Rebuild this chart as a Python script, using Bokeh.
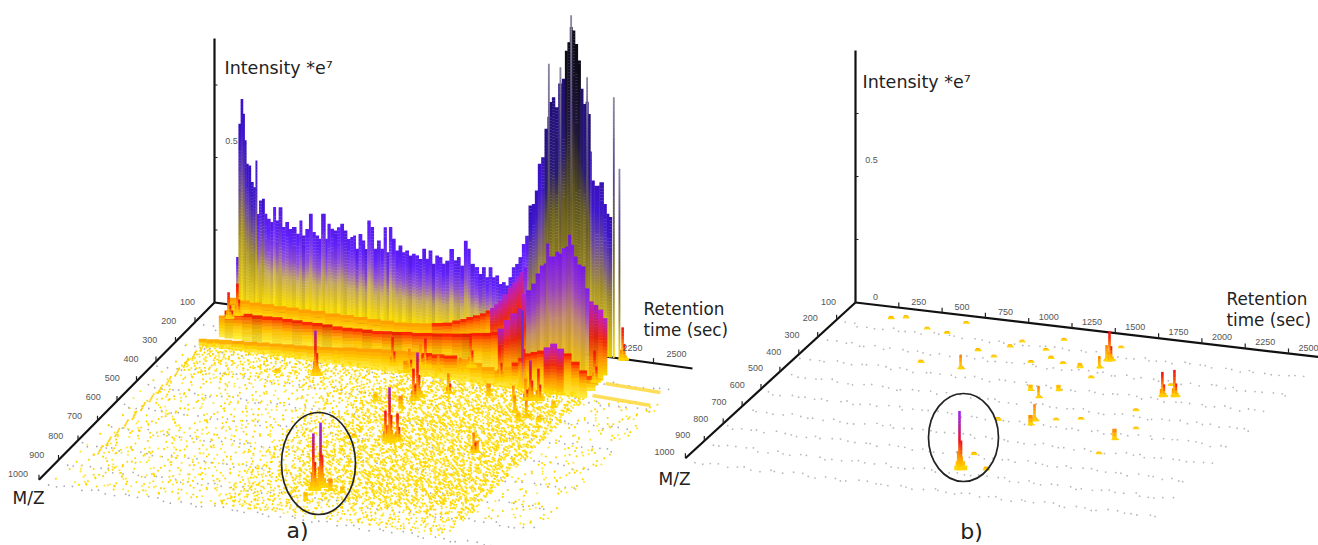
from bokeh.plotting import figure
from bokeh.embed import file_html
from bokeh.resources import INLINE
from bokeh.core.properties import value

# ---------- data ----------
rt_ticks = [250, 500, 750, 1000, 1250, 1500, 1750, 2000, 2250, 2500]
mz_ticks = [100, 200, 300, 400, 500, 600, 700, 800, 900, 1000]
intensity_ticks = [0.25, 0.5, 0.75]

ridge_a_rt = [133,142,158,167,177,186,201,214,230,239,247,262,281,290,309,328,342,357,376,395,414,433,452,480,490,509,528,550,566,585,604,613,626,638,651,670,689,708,727,746,765,784,797,812,831,850,864,879,898,917,936,955,974,987,1002,1021,1040,1059,1078,1097,1116,1135,1154,1173,1196,1211,1230,1249,1268,1287,1306,1325,1353,1372,1391,1410,1433,1448,1467,1496,1515,1534,1553,1572,1591,1610,1629,1648,1666,1685,1704,1723,1742,1761,1780,1799,1818,1833,1852,1871,1890,1904,1913,1932,1947,1970,1989,2004,2018,2031,2046,2061,2078,2093,2107,2122,2137,2145,2150,2179,2207,2226,2240,2255]
ridge_a_int = [.168,.628,.715,.665,.574,.494,.489,.433,.417,.510,.326,.374,.381,.330,.315,.305,.358,.313,.360,.293,.312,.290,.298,.277,.324,.274,.298,.352,.290,.280,.270,.357,.358,.273,.326,.310,.306,.319,.332,.311,.283,.291,.298,.253,.306,.285,.257,.356,.335,.262,.292,.265,.341,.256,.344,.305,.266,.285,.263,.271,.255,.263,.259,.248,.285,.252,.282,.238,.268,.264,.243,.255,.298,.260,.273,.245,.333,.306,.256,.247,.225,.250,.217,.253,.220,.228,.200,.208,.198,.228,.264,.277,.302,.349,.379,.485,.492,.539,.633,.657,.757,.80,.851,.869,.836,.92,.938,1.036,1.066,1.12,1.109,1.064,1.008,.912,.861,.87,.829,.70,.600,.585,.599,.526,.493,.483]
spike_a_rt = [1904, 1970, 2031, 2122, 2274, 2306]
spike_a_int = [.982, .976, 1.160, .954, .898, .654]

shelf_rt = [150,232,300,370,440,510,580,650,744,820,900,975,1050,1126,1200,1270,1340,1394,1450,1485,1520,1560,1599,1625,1650,1672,1695,1723,1752,1776,1800,1818,1837]
shelf_int = [.07,.067,.066,.066,.065,.066,.065,.066,.065,.066,.066,.065,.066,.066,.070,.075,.082,.088,.100,.108,.118,.127,.137,.149,.160,.174,.189,.213,.239,.258,.280,.298,.315]

hump_rt = [201,249,296,353,410,467,524,581,638,695,752,809,866,923,980,1036,1093,1150,1207,1264,1321,1378,1435,1492,1549,1606,1663,1720,1767,1795,1833,1871,1909,1928,1957,1985,2008,2033,2052,2061,2080,2099,2118,2137,2156,2175,2188,2204,2223,2242,2267,2289,2312,2337,2365,2394]
hump_int = [.074,.095,.090,.093,.092,.093,.095,.094,.094,.093,.094,.094,.092,.092,.094,.095,.095,.099,.101,.106,.107,.112,.115,.120,.124,.129,.136,.141,.148,.162,.194,.221,.241,.294,.308,.333,.370,.399,.408,.478,.434,.436,.454,.449,.469,.477,.518,.485,.446,.420,.416,.342,.299,.289,.275,.248]

low_rt = [142,210,285,355,427,500,570,640,712,785,855,925,997,1070,1140,1210,1281,1350,1425,1495,1566,1640,1710,1780,1851,1895,1936,1970,2005,2042,2079,2116,2153,2192,2232,2277,2323,2362,2420]
low_int = [.023,.027,.031,.034,.037,.040,.042,.045,.047,.051,.054,.058,.064,.067,.071,.074,.077,.079,.081,.082,.084,.078,.070,.062,.056,.073,.091,.110,.128,.136,.144,.158,.174,.160,.147,.122,.096,.080,.076]

peak_a_rt = [179,149,2332,868,884,1204,1304,1314,1344,1379,1488,1483,1469,1623,1579,1605,1834,1815,1984,2049,1965,2044,2069,2109,2133,2108,2219,2208,2042,2057,2301,1453,1571,1541,1601,1293,1428,1449,1513,1583,1438,658,1366]
peak_a_mz = [144,162,107,364,275,271,295,284,254,260,399,415,275,362,261,232,346,272,354,406,290,346,343,338,422,440,360,427,610,608,223,454,617,611,603,439,879,861,868,870,928,375,617]
peak_a_int = [.11,.09,.114,.155,.028,.097,.041,.076,.076,.100,.155,.110,.059,.069,.052,.117,.041,.121,.052,.059,.266,.076,.138,.110,.059,.028,.024,.017,.069,.041,.110,.041,.190,.103,.093,.024,.197,.224,.041,.021,.028,.014,.014]

peak_b_rt = [1468,909,1627,1611,1614,1511,2097,2159,1469,1388,1532,1578,1580,2092,343,271,513,639,668,895,1011,681,1387,1455,1602,1038,1071,1239,1276,1311,1401,1230,1625,1610,2037,1804,1681,2139,2089,2076]
peak_b_mz = [895,377,247,248,289,300,398,391,478,446,430,599,622,647,150,163,194,204,369,275,297,141,619,809,880,236,203,231,169,270,289,302,345,173,486,563,582,579,729,336]
peak_b_int = [.234,.056,.119,.063,.048,.02,.099,.107,.048,.024,.024,.067,.04,.044,.012,.012,.010,.010,.012,.012,.010,.008,.014,.012,.014,.012,.010,.010,.010,.012,.010,.010,.010,.008,.010,.008,.008,.008,.008,.008]

band_mz0 = [221, 282]
band_mz1 = [227, 291]
band_rt0 = [2361, 2355]
band_rt1 = [2680, 2695]

grey_rows = [215,315,415,515,615,715,815,915,1015]
grey_shift = [0,18,-14,26,-8,12,-22,6,20]
grey_rt = [55,98,150,192,241,283,335,384,425,478,520,571,610,664,705,760,802,850,897,941,995,1036,1091,1130,1178,1228,1272,1320,1363,1417,1458,1505,1552,1600,1642,1695,1733,1788,1830,1875,1926,1968,2019,2060,2112,2155,2200,2250,2291,2345,2386,2434,2481,2525,2574,2616,2668,2710]

yellow_rows = [285,294,302,311,319,329,337,346,355,363,372,381,389,399,407,416,424,433,443,451,460,468,478,486,495,503,513,521,530,539,547,557,565,574,582,592,600,609,618,626,636,644,653,661,671,679,688,697,705,715,723,732,740,750,758,767,776,784,794,802,811,819,829,837,846,855,863,873,881,890,898,908,916,925,934,942,952,960,969,978,986,996]
yellow_rt = [62,88,109,137,160,186,214,233,262,285,311,332,361,384,413,436,458,487,509,537,560,588,607,636,661,683,712,735,763,784,812,838,859,889,911,936,958,987,1008,1036,1061,1083,1112,1134,1162,1183,1213,1236,1258,1287,1309,1338,1360,1386,1407,1436,1461,1484,1511,1533,1562,1583,1612,1637,1659,1688,1710,1736,1757,1786,1811,1833,1862,1884,1912,1933,1963,1986,2008,2037,2059,2087,2110,2136,2157,2186,2211,2233,2262,2284,2312,2333,2362,2386,2408,2437,2459,2488,2510,2535,2556,2586,2611,2633,2662,2684,2712,2735]
stipple_order = [17,3,28,9,22,1,14,30,6,25,11,19,0,27,8,16,4,23,12,29,2,20,7,26,13,5,24,10,18,15,21]
edge_rt = 2320


# ---------- projections of the two panels ----------
def proj_a(rt, mz, i=0.0):
    u, v = rt / 250.0, (mz - 100) / 100.0
    return 214 + 43.9 * u - 19.5 * v, 302 + 6.06 * u + 19.7 * v - i * 290


def proj_b(rt, mz, i=0.0):
    u, v = rt / 250.0, (mz - 100) / 100.0
    return 855 + 43.3 * u - 18.9 * v, 302 + 5.1 * u + 17.3 * v - i * 252


def edge_y(x):
    # floor height of the surface's right rim below screen position x
    x0, y0 = proj_a(edge_rt, 100)
    return y0 + (x0 - x) * 19.7 / 19.5


# ---------- colour helpers ----------
def h2r(h):
    return tuple(int(h[k:k + 2], 16) for k in (1, 3, 5))


def ramp(t, stops, shade=1.0):
    for (t0, c0), (t1, c1) in zip(stops, stops[1:]):
        if t <= t1:
            f = (t - t0) / (t1 - t0)
            a, b = h2r(c0), h2r(c1)
            r = [min(255, int((a[k] + (b[k] - a[k]) * f) * shade)) for k in range(3)]
            return "#%02x%02x%02x" % tuple(r)
    return stops[-1][1]


def stops_back(top):
    if top < .38:
        return [(0, "#ffe000"), (.12, "#f6d80a"), (.4, "#c8ac60"), (.62, "#9050d8"), (.85, "#6222ff"), (1, "#5a1cf0")]
    if top < .72:
        return [(0, "#ffe000"), (.12, "#e4c818"), (.4, "#a8942c"), (.65, "#6c4aa0"), (.85, "#4018d0"), (1, "#3a12c0")]
    if top < 1.0:
        return [(0, "#ffdc00"), (.12, "#d8c018"), (.35, "#968424"), (.55, "#6c6224"), (.72, "#2a1c78"), (1, "#24107c")]
    return [(0, "#ffdc00"), (.12, "#d8c018"), (.3, "#8e7e20"), (.5, "#5c5420"), (.72, "#20183c"), (1, "#0c0a14")]


def stops_front(top):
    if top < .03:
        return [(0, "#ffe000"), (.6, "#ffc800"), (1, "#ffa800")]
    if top < .08:
        return [(0, "#ffe000"), (.5, "#ffb400"), (1, "#ff7a00")]
    if top < .13:
        return [(0, "#ffe000"), (.4, "#ffa000"), (.75, "#ff3000"), (1, "#f01020")]
    if top < .2:
        return [(0, "#ffe000"), (.3, "#ff9c00"), (.6, "#f02010"), (.85, "#c81860"), (1, "#a020d8")]
    if top < .26:
        return [(0, "#ffe000"), (.25, "#ff9000"), (.5, "#e81820"), (.75, "#b020a0"), (1, "#9a20f0")]
    return [(0, "#ffd800"), (.2, "#e89040"), (.35, "#d03060"), (.6, "#7038c8"), (1, "#5a30e8")]


def stops_hump(top):
    if top < .08:
        return [(0, "#fff050"), (.5, "#ffcc00"), (1, "#ff9800")]
    if top < .15:
        return [(0, "#fff040"), (.5, "#ffc000"), (.8, "#ff7000"), (.93, "#ff3000"), (1, "#f01000")]
    if top < .3:
        return [(0, "#ffe000"), (.3, "#ff9000"), (.6, "#f02810"), (.85, "#d0208c"), (1, "#b020d8")]
    return [(0, "#ffdc00"), (.25, "#e8b820"), (.5, "#c48c70"), (.75, "#9a40c8"), (1, "#7a18f0")]


STREAK = [1, .95, 1.03, .97, .92, 1.02, .98]
Q = dict(left=[], right=[], top=[], bottom=[], color=[])


def bar(x0, x1, yb, yt, stops, shade=1.0):
    n = max(2, int((yb - yt) / 3.0))
    for k in range(n):
        Q["left"].append(x0)
        Q["right"].append(x1)
        Q["bottom"].append(yb - (yb - yt) * k / n + .3)
        Q["top"].append(yb - (yb - yt) * (k + 1) / n)
        Q["color"].append(ramp((k + .5) / n, stops, shade))


def ridge(rts, ints, mz, stopfn, streak=True):
    xs = [proj_a(r, mz)[0] for r in rts]
    for k, (r, i) in enumerate(zip(rts, ints)):
        left = (xs[k - 1] + xs[k]) / 2 if k else xs[k] - 1.5
        right = (xs[k + 1] + xs[k]) / 2 if k < len(xs) - 1 else xs[k] + 1.5
        yb = proj_a(r, mz)[1]
        yt = proj_a(r, mz, i)[1]
        yb = min(yb, edge_y(xs[k]))
        if yb - yt < 1:
            continue
        bar(left - .2, right + .2, yb, yt, stopfn(i), STREAK[k % 7] if streak else 1)


def skirt(x, yb, w, h, stops, widths=(1, .72, .46, .24)):
    # a small stepped foot round a peak, narrowing as it rises
    n = len(widths)
    for k, f in enumerate(widths):
        Q["left"].append(x - w * f * .8)
        Q["right"].append(x + w * f * 1.2)
        Q["bottom"].append(yb - h * k / n + .3)
        Q["top"].append(yb - h * (k + 1) / n)
        Q["color"].append(ramp((k + .5) / n, stops))


def peaks(rts, mzs, ints, pr):
    for r, m, i in sorted(zip(rts, mzs, ints), key=lambda t: t[1]):
        x, yb = pr(r, m)
        yt = pr(r, m, i)[1]
        h = yb - yt
        if h < 6:
            skirt(x, yb, 3.4, max(2.4, h), stops_front(.02), (1, .85, .6))
            continue
        skirt(x, yb, min(6.5, 3 + h * .07), max(3, h * .3), stops_front(.05))
        w = 1.3 if h > 12 else 2.2
        bar(x - w, x + w, yb, yt, stops_front(i))
        if h > 20:
            bar(x + .8, x + 2.8, yb, yb - h * .5, stops_front(.1))
            bar(x - 2.6, x - .8, yb, yb - h * .32, stops_front(.07))


# ---------- figure: one data unit is one pixel of the photograph ----------
W, H = 1318, 545
p = figure(width=W, height=H, x_range=(0, W), y_range=(H, 0),
           output_backend="svg", toolbar_location=None, min_border=0)
p.axis.visible = False
p.grid.visible = False
p.outline_line_color = None
p.background_fill_color = "white"

# floor dots
gx, gy = [], []
gx2, gy2 = [], []
for i, m in enumerate(grey_rows):
    for j, r in enumerate(grey_rt):
        idx = (i * i * 3 + j * 7 + i * j) % 31
        rr = r + grey_shift[i % 9] + (stipple_order[idx] - 15) * .9
        mm = m + (stipple_order[(idx + 5) % 31] - 15) * .6
        a = proj_a(rr, mm)
        gx.append(a[0]); gy.append(a[1])
        b = proj_b(rr, mm)
        gx2.append(b[0]); gy2.append(b[1])
p.scatter(gx2, gy2, size=1.8, marker="circle", color="#b8b8bc", line_color=None)
p.scatter(gx, gy, size=1.8, marker="circle", color="#a8a8b4", line_color=None)

# axes drawn behind the surface
ax_x0, ax_y0, ax_x1, ax_y1 = [], [], [], []


def add_axis(pr, rt_end, top_i):
    o = pr(0, 100)
    for end in (pr(rt_end, 100), pr(0, 1000), pr(0, 100, top_i)):
        ax_x0.append(o[0]); ax_y0.append(o[1]); ax_x1.append(end[0]); ax_y1.append(end[1])


add_axis(proj_a, 2722, .91)
add_axis(proj_b, 2673, 1.0)
p.segment(ax_x0, ax_y0, ax_x1, ax_y1, line_color="#111111", line_width=2.2)

tx0, ty0, tx1, ty1 = [], [], [], []
for pr in (proj_a, proj_b):
    for r in rt_ticks:
        x, y = pr(r, 100)
        tx0.append(x); ty0.append(y); tx1.append(x); ty1.append(y - 5)
    for m in mz_ticks[1:]:
        x, y = pr(0, m)
        tx0.append(x); ty0.append(y); tx1.append(x); ty1.append(y - 5)
    for i in intensity_ticks:
        x, y = pr(0, 100, i)
        tx0.append(x); ty0.append(y); tx1.append(x + 3); ty1.append(y)
p.segment(tx0, ty0, tx1, ty1, line_color="#222222", line_width=1.2)

# back-to-front surface of panel a
ridge(ridge_a_rt, ridge_a_int, 100, stops_back)
for r, i in zip(spike_a_rt, spike_a_int):
    x, yb = proj_a(r, 100)
    bar(x - .9, x + .9, yb, proj_a(r, 100, i)[1],
        [(0, "#ffdc00"), (.2, "#a89428"), (.45, "#6a5a30"), (.7, "#5a4a8c"), (1, "#8a86a0")])
ridge(shelf_rt, shelf_int, 160, stops_hump, False)
ridge(hump_rt, hump_int, 250, stops_hump)
ridge(low_rt, low_int, 300, stops_hump, False)
p.quad(left="left", right="right", top="top", bottom="bottom", color="color",
       line_color=None, source=dict(Q))
for k in Q:
    Q[k] = []


# yellow stipple of panel a
def density(rr, m):
    if rr > 2330:
        return .13 if m < 900 else 0
    if rr < 150:
        return .06
    if m < 380:
        return .9
    if rr > 1450:
        return .95 if m < 880 else .6
    if rr > 1000:
        return .7 if m > 430 else .85
    if rr > 500:
        return .3 if m > 430 else .6
    return .2 if m > 430 else .55


yx, yy, ycol = [], [], []
for i, m in enumerate(yellow_rows):
    for j, r in enumerate(yellow_rt):
        idx = (i * i * 3 + j * 7 + i * j) % 31
        o = stipple_order[idx]
        rr = r + (stipple_order[(idx + 9) % 31] - 15) * 1.3
        mm = m + (stipple_order[(idx + 5) % 31] - 15) * .35
        if o < density(rr, m) * 31:
            x, y = proj_a(rr, mm)
            yx.append(x); yy.append(y)
            ycol.append("#ffd800" if o % 3 else "#ffe838")
        rr2 = rr + 12
        if 1250 < rr2 < 2330 and m < 900 and o % 2 == 0:
            x, y = proj_a(rr2, mm + 4)
            yx.append(x); yy.append(y)
            ycol.append("#ffdc10")
    if m < 860:
        x, y = proj_a(150 + (i % 5) * 4, m)
        yx.append(x); yy.append(y)
        ycol.append("#ffd000")
p.scatter(yx, yy, size=2.1, marker="circle", color=ycol, line_color=None)

bx0, by0, bx1, by1 = [], [], [], []
for m0, m1, r0, r1 in zip(band_mz0, band_mz1, band_rt0, band_rt1):
    a, b = proj_a(r0, m0), proj_a(r1, m1)
    bx0.append(a[0]); by0.append(a[1]); bx1.append(b[0]); by1.append(b[1])
p.segment(bx0, by0, bx1, by1, line_color="#ffd83a", line_width=3.5, line_alpha=.85)

# peaks of both panels
peaks(peak_a_rt, peak_a_mz, peak_a_int, proj_a)
peaks(peak_b_rt, peak_b_mz, peak_b_int, proj_b)
p.quad(left="left", right="right", top="top", bottom="bottom", color="color",
       line_color=None, source=dict(Q))

# circled regions
p.ellipse(x=[318, 963], y=[463, 437], width=[74, 70], height=[102, 88], angle=[0, 0],
          fill_color=None, line_color="#222222", line_width=1.7)


# texts
def lab(xs, ys, ts, size, color="#222222", align="center", font="DejaVu Sans"):
    p.text(xs, ys, text=ts, text_font=value(font), text_font_size=size,
           text_color=color, text_align=align, text_baseline="middle")


tick_col = "#555555"
TICK_FONT = "Liberation Sans"
for pr in (proj_a, proj_b):
    xs, ys, ts = [], [], []
    for m in mz_ticks:
        x, y = pr(0, m)
        f = (m - 100) / 900
        xs.append(x - 27 + 6 * f); ys.append(y - 1 - 5 * f); ts.append(str(m))
    lab(xs, ys, ts, "9px", tick_col, font=TICK_FONT)
xs, ys, ts = [], [], []
for r in rt_ticks[-2:]:
    x, y = proj_a(r, 100)
    xs.append(x + 23); ys.append(y - 9); ts.append(str(r))
lab(xs, ys, ts, "9px", tick_col, font=TICK_FONT)
xs, ys, ts = [], [], []
for r in [0] + rt_ticks:
    x, y = proj_b(r, 100)
    xs.append(x + 20); ys.append(y - 6); ts.append(str(r))
lab(xs, ys, ts, "9px", tick_col, font=TICK_FONT)
x, y = proj_a(0, 100, .5)
lab([x + 17], [y - 17], ["0.5"], "9px", tick_col, font=TICK_FONT)
x, y = proj_b(0, 100, .5)
lab([x + 16], [y - 17], ["0.5"], "9px", tick_col, font=TICK_FONT)

lab([224, 862], [67, 81], ["Intensity *e\u2077", "Intensity *e\u2077"], "17.5px", align="left")
lab([643, 643, 1226, 1226], [308, 329, 298, 319],
    ["Retention", "time (sec)", "Retention", "time (sec)"], "16.8px", align="left")
lab([12, 658], [497, 478], ["M/Z", "M/Z"], "17px", align="left")
lab([297, 971], [530, 531], ["a)", "b)"], "22px")

open("out.html", "w").write(file_html(p, INLINE))
